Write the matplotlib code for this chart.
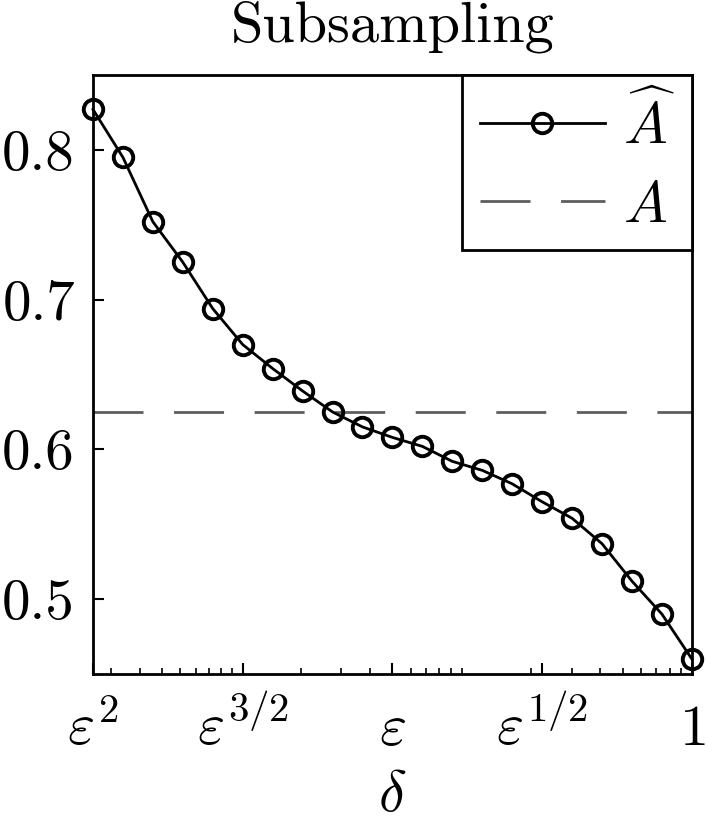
import numpy as np
import matplotlib
matplotlib.use('Agg')
import matplotlib.pyplot as plt
from matplotlib.ticker import FixedLocator, LogLocator, NullFormatter

plt.rcParams['font.family'] = 'cmr10'
plt.rcParams['mathtext.fontset'] = 'cm'
plt.rcParams['axes.formatter.use_mathtext'] = True

######################################################################
######### Data
######################################################################
eps = 0.05
exponents = [2.0, 1.9, 1.8, 1.7, 1.6, 1.5, 1.4, 1.3, 1.2, 1.1, 1.0,
             0.9, 0.8, 0.7, 0.6, 0.5, 0.4, 0.3, 0.2, 0.1, 0.0]
A_hat = [0.827, 0.795, 0.752, 0.725, 0.694, 0.670, 0.654, 0.639, 0.625, 0.615, 0.608,
         0.602, 0.592, 0.586, 0.577, 0.565, 0.554, 0.537, 0.512, 0.490, 0.460]
A_true = 0.625

xtick_exps = [2, 1.5, 1, 0.5, 0]
xtick_labels = [r'$\varepsilon^2$', r'$\varepsilon^{3/2}$', r'$\varepsilon$',
                r'$\varepsilon^{1/2}$', r'$1$']
yticks = [0.5, 0.6, 0.7, 0.8]
ytick_labels = ['0.5', '0.6', '0.7', '0.8']

delta = eps ** np.array(exponents)

fig = plt.figure(figsize=(7.06, 8.24), dpi=100)
ax = fig.add_axes([0.1317, 0.182, 0.8483, 0.727])

ax.plot(delta, A_hat, 'k-', lw=2, marker='o', ms=14, mfc='none', mec='k',
        mew=2.8, label=r'$\widehat{A}$', clip_on=False, zorder=3)
ax.axhline(A_true, color='#5e5e5e', lw=2, dashes=(18, 11), label=r'$A$')

ax.set_xscale('log')
ax.set_xlim(eps ** 2, 1)
ax.set_ylim(0.45, 0.85)

ax.xaxis.set_major_locator(FixedLocator(eps ** np.array(xtick_exps, dtype=float)))
ax.set_xticklabels(xtick_labels, va='baseline')
ax.xaxis.set_minor_locator(LogLocator(base=10, subs=np.arange(1, 10)))
ax.xaxis.set_minor_formatter(NullFormatter())
ax.set_yticks(yticks)
ax.set_yticklabels(ytick_labels)

ax.tick_params(which='major', direction='in', length=8, width=1.5,
               labelsize=41)
ax.tick_params(axis='x', which='major', labelsize=42, pad=51)
ax.tick_params(axis='y', which='major', pad=13)
ax.tick_params(which='minor', direction='in', length=4, width=1.2)
for s in ax.spines.values():
    s.set_linewidth(2)

ax.set_title('Subsampling', fontsize=42, pad=24)
ax.set_xlabel(r'$\delta$', fontsize=42, va='baseline')
ax.xaxis.set_label_coords(0.5, -0.228)

leg = ax.legend(loc='upper right', fontsize=42, handlelength=2.15,
                handletextpad=0.3, fancybox=False, framealpha=1,
                borderaxespad=0, edgecolor='k', borderpad=0.3,
                labelspacing=0.45)
leg.get_frame().set_linewidth(2)

plt.savefig('out.png', dpi=100)
